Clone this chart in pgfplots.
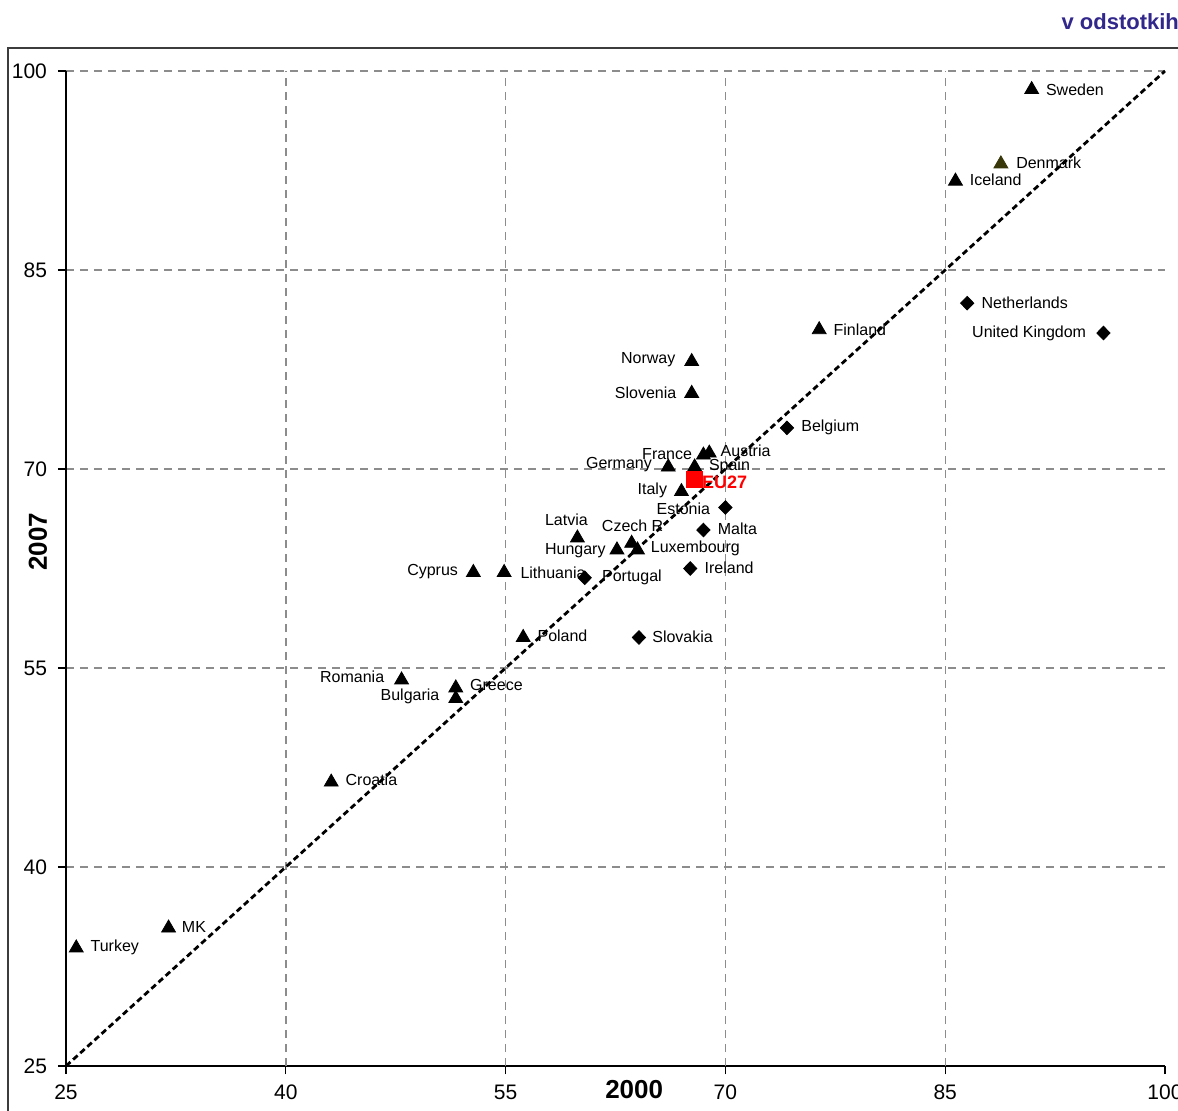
\documentclass[border=0pt]{standalone}
\usepackage{fontspec}
\setmainfont{Liberation Sans}
\usepackage{pgfplots}
\pgfplotsset{compat=1.18}

\definecolor{gridgray}{RGB}{140,140,140}
\definecolor{titleblue}{RGB}{50,40,140}
\definecolor{olivedk}{RGB}{55,55,10}
\definecolor{framegray}{RGB}{60,60,60}

\pgfplotsset{labs/.style={
  nodes near coords,
  point meta=explicit symbolic,
  visualization depends on={value \thisrow{anc}\as\myanc},
  visualization depends on={value \thisrow{dx}\as\mydx},
  visualization depends on={value \thisrow{dy}\as\mydy},
  every node near coord/.style={anchor=\myanc, xshift=\mydx pt, yshift=\mydy pt,
    inner sep=0pt, font=\fontsize{8}{9}\selectfont, text=black},
}}

\begin{document}
\begin{tikzpicture}
\path[use as bounding box] (-33pt,-22pt) rectangle (556pt,533pt);
\begin{scope}
\clip (-33pt,-22pt) rectangle (556pt,533pt);
\draw[framegray, line width=0.8pt] (-29pt,-60pt) -- (-29pt,509pt) -- (600pt,509pt);
\end{scope}
\node[anchor=east, text=titleblue, font=\fontsize{11}{13}\selectfont\bfseries] at (560pt,522pt) {v odstotkih};

\begin{axis}[
  at={(0,0)}, anchor=south west,
  x=7.3267pt, y=6.6333pt,
  xmin=25, xmax=100, ymin=25, ymax=100,
  enlargelimits=false,
  axis x line*=bottom, axis y line*=left,
  axis line style={-, line width=1pt, black},
  xtick={25,40,55,70,85,100},
  ytick={25,40,55,70,85,100},
  extra x ticks={40,55,70,85},
  extra x tick labels={},
  extra x tick style={grid=major},
  ymajorgrids=true,
  major grid style={gridgray, line width=0.7pt, dash pattern=on 4pt off 3pt},
  tick align=outside,
  major tick length=4pt,
  tick style={black, line width=0.6pt},
  /pgf/number format/assume math mode=true,
  ticklabel style={font=\fontsize{10.5}{12}\selectfont},
  yticklabel style={xshift=-2pt},
  xticklabel style={yshift=-2pt},
  xlabel={2000}, ylabel={2007},
  xlabel style={at={(axis description cs:0.517,-0.0241)}, anchor=center, font=\fontsize{13}{15}\selectfont\bfseries},
  ylabel style={at={(axis description cs:-0.0255,0.527)}, anchor=center, font=\fontsize{13}{15}\selectfont\bfseries},
  clip=false,
]

\addplot[black, line width=1.4pt, dash pattern=on 3pt off 1.8pt, forget plot]
  coordinates {(25,25) (100,100)};

% triangles
\addplot[only marks, mark=triangle*, mark size=4pt, black, labs]
  table[x=x, y=y, meta=lab, col sep=comma] {
x,y,lab,anc,dx,dy
90.9,98.6,Sweden,west,7,0
85.7,91.7,Iceland,west,7,0.5
76.4,80.5,Finland,west,7,0
67.7,78.1,Norway,east,-8,1
67.7,75.7,Slovenia,east,-7.5,0.5
68.9,71.2,Austria,west,5.5,1
68.5,71.05,France,east,-5.5,0.5
67.9,70.15,Spain,west,7,0.5
66.1,70.15,Germany,east,-8,1
67.0,68.3,Italy,east,-7,0.5
59.9,64.8,Latvia,center,-5.5,9
63.6,64.4,Czech R,center,0.5,9
62.6,63.9,Hungary,east,-5.5,-0.5
64.0,63.9,Luxembourg,west,6.5,1
54.9,62.2,Lithuania,west,8,0
52.8,62.2,Cyprus,east,-7.5,0.5
56.2,57.3,Poland,west,7,1
47.9,54.1,Romania,east,-8.5,1.5
51.6,53.5,Greece,west,7,1.5
51.6,52.7,Bulgaria,east,-8,1
43.1,46.4,Croatia,west,7,1
32.0,35.4,MK,west,6.5,0.5
25.7,33.9,Turkey,west,7,0.5
};

% diamonds
\addplot[only marks, mark=diamond*, mark size=3.4pt, mark options={xscale=1.3}, black, labs]
  table[x=x, y=y, meta=lab, col sep=comma] {
x,y,lab,anc,dx,dy
86.5,82.5,Netherlands,west,7,0
95.8,80.25,United Kingdom,east,-8.5,0
74.2,73.1,Belgium,west,7,0.5
70.0,67.1,Estonia,east,-7.5,-0.5
68.5,65.4,Malta,west,7,0.5
67.6,62.5,Ireland,west,7,0.5
60.4,61.8,Portugal,west,8.5,0
64.1,57.3,Slovakia,west,6.5,0.5
};

\addplot[only marks, mark=triangle*, mark size=4pt, olivedk, labs]
  table[x=x, y=y, meta=lab, col sep=comma] {
x,y,lab,anc,dx,dy
88.8,93.0,Denmark,west,7.5,0.5
};

\addplot[only marks, mark=square*, mark size=4pt, red, labs,
  every node near coord/.append style={text=red, font=\fontsize{9}{10}\selectfont\bfseries}]
  table[x=x, y=y, meta=lab, col sep=comma] {
x,y,lab,anc,dx,dy
67.9,69.2,EU27,west,3.5,-1.5
};

\end{axis}
\end{tikzpicture}
\end{document}
